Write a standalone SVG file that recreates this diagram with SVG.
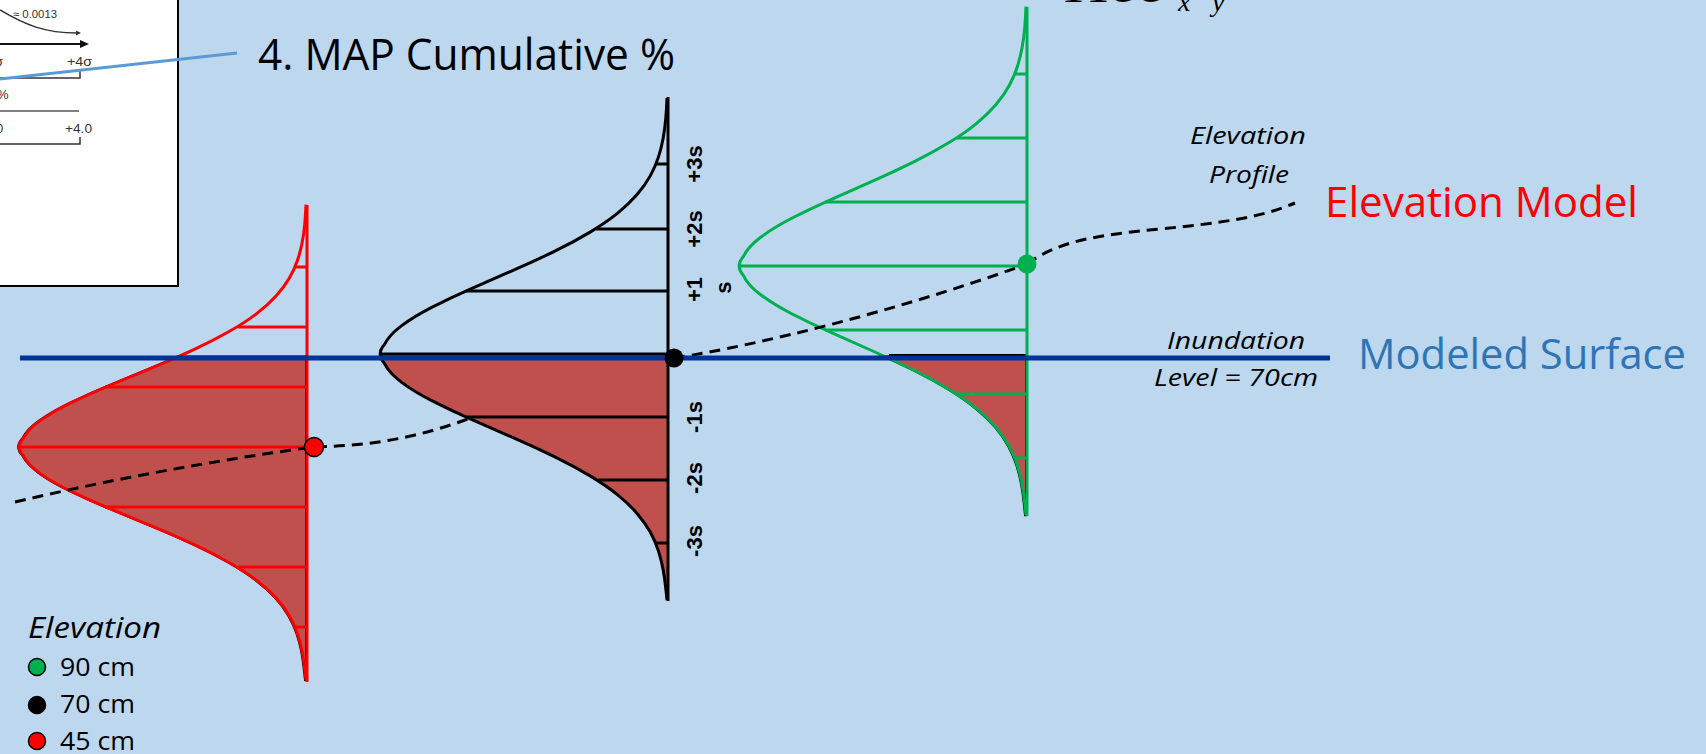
<svg xmlns="http://www.w3.org/2000/svg" width="1706" height="754" viewBox="0 0 1706 754">
<defs>
<style>
.bg{fill:#BDD7EE}
.lbl{font-family:"Open Sans","Liberation Sans",sans-serif}
.it{font-style:italic}
.ax{font-family:"Liberation Sans",Arial,sans-serif;font-weight:bold;font-size:22px;fill:#000}
.area{fill:#C0504D}
.rc{fill:none;stroke:#FF0000;stroke-width:3}
.bc{fill:none;stroke:#000;stroke-width:3}
.gc{fill:none;stroke:#00B050;stroke-width:3}
.dash{fill:none;stroke:#000;stroke-width:3;stroke-dasharray:11 7}
.surf{stroke:#003399;stroke-width:5}
.inset{font-family:"Liberation Sans",Arial,sans-serif;fill:#333}
.thin{fill:none;stroke:#333;stroke-width:1.5}
</style>
<clipPath id="below"><rect x="0" y="355" width="1706" height="399"/></clipPath>
<path id="bell" vector-effect="non-scaling-stroke" d="M-1,-256 Q-1.5,-243.7 -2.35,-234.4 Q-3.2,-225 -4.9,-215.6 Q-6.6,-206.2 -9.6,-196.9 Q-12.6,-187.5 -17.75,-178.1 Q-22.9,-168.7 -30.95,-159.4 Q-39,-150 -50.65,-140.6 Q-62.3,-131.2 -77.9,-121.9 Q-93.5,-112.5 -112.65,-103.1 Q-131.8,-93.7 -153.25,-84.4 Q-174.7,-75 -196.05,-65.6 Q-217.4,-56.2 -235.8,-46.9 Q-254.2,-37.5 -266.65,-28.1 Q-279.1,-18.7 -283.55,-9.4 Q-292,0 -283.55,9.4 Q-279.1,18.8 -266.65,28.1 Q-254.2,37.5 -235.8,46.9 Q-217.4,56.3 -196.05,65.6 Q-174.7,75 -153.25,84.4 Q-131.8,93.8 -112.65,103.1 Q-93.5,112.5 -77.9,121.9 Q-62.3,131.3 -50.65,140.6 Q-39,150 -30.95,159.4 Q-22.9,168.8 -17.75,178.1 Q-12.6,187.5 -9.6,196.9 Q-6.6,206.3 -4.9,215.6 Q-3.2,225 -2.1,235.5 L-1,246"/>
<path id="bellArea" vector-effect="non-scaling-stroke" d="M-1,-256 Q-1.5,-243.7 -2.35,-234.4 Q-3.2,-225 -4.9,-215.6 Q-6.6,-206.2 -9.6,-196.9 Q-12.6,-187.5 -17.75,-178.1 Q-22.9,-168.7 -30.95,-159.4 Q-39,-150 -50.65,-140.6 Q-62.3,-131.2 -77.9,-121.9 Q-93.5,-112.5 -112.65,-103.1 Q-131.8,-93.7 -153.25,-84.4 Q-174.7,-75 -196.05,-65.6 Q-217.4,-56.2 -235.8,-46.9 Q-254.2,-37.5 -266.65,-28.1 Q-279.1,-18.7 -283.55,-9.4 Q-292,0 -283.55,9.4 Q-279.1,18.8 -266.65,28.1 Q-254.2,37.5 -235.8,46.9 Q-217.4,56.3 -196.05,65.6 Q-174.7,75 -153.25,84.4 Q-131.8,93.8 -112.65,103.1 Q-93.5,112.5 -77.9,121.9 Q-62.3,131.3 -50.65,140.6 Q-39,150 -30.95,159.4 Q-22.9,168.8 -17.75,178.1 Q-12.6,187.5 -9.6,196.9 Q-6.6,206.3 -4.9,215.6 Q-3.2,225 -2.1,235.5 L-1,246 L0,246 L0,-256 Z"/>
</defs>

<rect class="bg" x="0" y="0" width="1706" height="754"/>

<g id="inset">
  <rect x="-5" y="-5" width="183" height="291" fill="#fff" stroke="#000" stroke-width="2"/>
  <path class="thin" d="M0,10 C25,25 45,33 77,33"/>
  <polygon points="76,30.5 81,33 76,35.5" fill="#333"/>
  <text class="inset" x="13" y="18" font-size="11" textLength="44" lengthAdjust="spacingAndGlyphs">≈ 0.0013</text>
  <line x1="0" y1="44" x2="82" y2="44" stroke="#111" stroke-width="2"/>
  <polygon points="80,40 89,44 80,48" fill="#111"/>
  <text class="inset" x="-5" y="66" font-size="13">σ</text>
  <text class="inset" x="67" y="66" font-size="13" textLength="25" lengthAdjust="spacingAndGlyphs">+4σ</text>
  <polyline class="thin" points="0,78 80,78 80,71"/>
  <text class="inset" x="-3" y="99" font-size="13">%</text>
  <line x1="0" y1="111" x2="79" y2="111" stroke="#555" stroke-width="1.3"/>
  <text class="inset" x="-4" y="133" font-size="13">0</text>
  <text class="inset" x="65" y="133" font-size="13" textLength="27" lengthAdjust="spacingAndGlyphs">+4.0</text>
  <polyline class="thin" points="0,144 80,144 80,137"/>
</g>

<g id="red-distribution">
  <g clip-path="url(#below)">
    <use href="#bellArea" class="area" transform="translate(306,447) scale(1,0.947)" style="stroke:#000;stroke-width:2"/>
  </g>
  <use href="#bell" class="rc" transform="translate(307,447) scale(1,0.947)"/>
  <path class="rc" d="M296,267H307 M238,327H307 M105,387H307 M19,447H307 M105,507H307 M238,567H307 M296,627H307 M307,205V682"/>
</g>

<g id="green-distribution">
  <g clip-path="url(#below)">
    <use href="#bellArea" class="area" transform="translate(1026,266) scale(1,1.013)" style="stroke:#000;stroke-width:2"/>
  </g>
  <line x1="889" y1="355" x2="1027" y2="355" stroke="#000" stroke-width="2"/>
  <use href="#bell" class="gc" transform="translate(1027,266) scale(1,1.013)"/>
  <path class="gc" d="M1015,74H1027 M957,138H1027 M825,202H1027 M739,266H1027 M825,330H1027 M957,394H1027 M1015,458H1027 M1027,7V516"/>
</g>

<g id="connectors">
  <path class="dash" d="M15,502 Q160,468 313,447 C370,446 420,438 478,415"/>
  <path class="dash" d="M674,358 C760,345 900,310 1027,264"/>
  <path class="dash" d="M1027,264 C1060,240 1100,235 1160,229 S1260,218 1295,203"/>
  <line x1="0" y1="79" x2="237" y2="53" stroke="#5B9BD5" stroke-width="3"/>
</g>

<g id="black-distribution">
  <g clip-path="url(#below)">
    <use href="#bellArea" class="area" transform="translate(668,354)"/>
  </g>
  <use href="#bell" class="bc" transform="translate(668,354)"/>
  <path class="bc" d="M656,164H668 M596,229H668 M466,291H668 M380,354H668 M466,417H668 M598,480H668 M656,543H668 M668,97V601"/>
  <text class="ax" transform="translate(702,164) rotate(-90)" text-anchor="middle">+3s</text>
  <text class="ax" transform="translate(702,229) rotate(-90)" text-anchor="middle">+2s</text>
  <text class="ax" transform="translate(702,289.5) rotate(-90)" text-anchor="middle">+1</text>
  <text class="ax" transform="translate(731,287.5) rotate(-90)" text-anchor="middle">s</text>
  <text class="ax" transform="translate(702,417) rotate(-90)" text-anchor="middle">-1s</text>
  <text class="ax" transform="translate(702,478) rotate(-90)" text-anchor="middle">-2s</text>
  <text class="ax" transform="translate(702,541) rotate(-90)" text-anchor="middle">-3s</text>
</g>

<g id="modeled-surface">
  <line class="surf" x1="20" y1="358" x2="1330" y2="358"/>
</g>

<g id="points">
  <circle cx="314" cy="447" r="9.5" fill="#FF0000" stroke="#000" stroke-width="1.5"/>
  <circle cx="674" cy="358" r="9.5" fill="#000"/>
  <circle cx="1027" cy="264" r="9.5" fill="#00B050"/>
</g>

<g id="formula">
  <text x="1066" y="2" font-family="'Liberation Serif',serif" font-style="italic" font-size="44" textLength="100" lengthAdjust="spacingAndGlyphs">Hcc</text>
  <text x="1178" y="11" font-family="'Liberation Serif',serif" font-style="italic" font-size="28">x</text>
  <text x="1212" y="11" font-family="'Liberation Serif',serif" font-style="italic" font-size="28">y</text>
</g>

<g id="title">
  <text class="lbl" x="258" y="70" font-size="43" fill="#000" textLength="417" lengthAdjust="spacingAndGlyphs">4. MAP Cumulative %</text>
</g>

<g id="elevation-model-label">
  <text class="lbl" x="1325" y="217" font-size="42" fill="#FF0000" textLength="313" lengthAdjust="spacingAndGlyphs">Elevation Model</text>
</g>

<g id="modeled-surface-label">
  <text class="lbl" x="1358" y="369" font-size="42" fill="#2E75B6" textLength="328" lengthAdjust="spacingAndGlyphs">Modeled Surface</text>
</g>

<g id="elevation-profile-label">
  <text class="lbl it" x="1190" y="144" font-size="23" fill="#000" textLength="116" lengthAdjust="spacingAndGlyphs">Elevation</text>
  <text class="lbl it" x="1209" y="183" font-size="23" fill="#000" textLength="80" lengthAdjust="spacingAndGlyphs">Profile</text>
</g>

<g id="inundation-label">
  <text class="lbl it" x="1167" y="349" font-size="24" fill="#000" textLength="138" lengthAdjust="spacingAndGlyphs">Inundation</text>
  <text class="lbl it" x="1154" y="386" font-size="24" fill="#000" textLength="164" lengthAdjust="spacingAndGlyphs">Level = 70cm</text>
</g>

<g id="legend">
  <text class="lbl it" x="28" y="638" font-size="30" fill="#000" textLength="133" lengthAdjust="spacingAndGlyphs">Elevation</text>
  <circle cx="37" cy="667" r="8.5" fill="#00B050" stroke="#000" stroke-width="1.5"/>
  <text class="lbl" x="60" y="676" font-size="25" fill="#000" textLength="75" lengthAdjust="spacingAndGlyphs">90 cm</text>
  <circle cx="37" cy="705" r="8.5" fill="#000" stroke="#000" stroke-width="1.5"/>
  <text class="lbl" x="60" y="713" font-size="25" fill="#000" textLength="75" lengthAdjust="spacingAndGlyphs">70 cm</text>
  <circle cx="37" cy="741" r="8.5" fill="#FF0000" stroke="#000" stroke-width="1.5"/>
  <text class="lbl" x="60" y="750" font-size="25" fill="#000" textLength="75" lengthAdjust="spacingAndGlyphs">45 cm</text>
</g>
</svg>
